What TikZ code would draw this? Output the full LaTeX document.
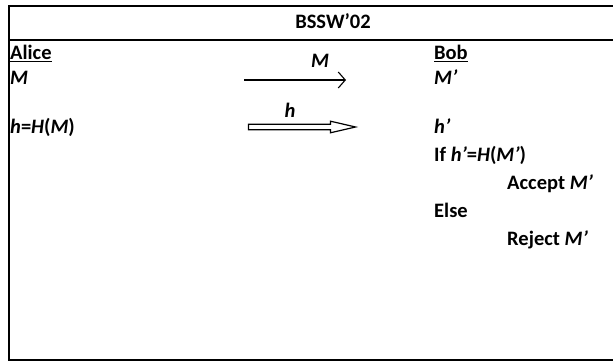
\documentclass[tikz,border=0pt]{standalone}
\usepackage{fontspec}
\setmainfont{Carlito}
\usetikzlibrary{arrows.meta,shapes.arrows}

\tikzset{
  txt/.style={anchor=base west, inner sep=0pt, font=\fontsize{20.5}{23}\selectfont\bfseries},
  frame/.style={line width=1.8pt},
  msg/.style={line width=1.1pt, -{Straight Barb[length=7pt,width=16pt]}},
  hollow/.style={single arrow, draw, line width=1.2pt, inner sep=2.2pt, minimum height=107pt,
    single arrow head extend=3pt, single arrow tip angle=26}
}

\begin{document}
\begin{tikzpicture}[x=1pt,y=-1pt]
  \useasboundingbox (0,0) rectangle (613,363);
  % frame and title bar
  \draw[frame] (613,6) -- (9,6) -- (9,360) -- (613,360);
  \draw[frame] (9,40) -- (613,40);
  \node[txt, anchor=base] (title) at (333,29) {BSSW'02};

  % parties
  \node[txt] (alice) at (10,60) {\underline{Alice}};
  \node[txt] (bob) at (434,60) {\underline{Bob}};

  % first message
  \node[txt] (m) at (10,85) {\textit{M}};
  \node[txt] (mb) at (434,85) {\textit{M'}};
  \coordinate (mfrom) at (244,80);
  \coordinate (mto) at (346,80);
  \draw[msg] (mfrom) -- (mto);
  \node[txt, anchor=base] (mlab) at (320,68) {\textit{M}};

  % hash value
  \node[txt] (h) at (10,134) {\textit{h}=\textit{H}(\textit{M})};
  \node[hollow] (harrow) at (296,127) {};
  \node[txt, anchor=base] (hlab) at (290,118) {\textit{h}};
  \node[txt] (hb) at (434,134) {\textit{h'}};

  % check at Bob
  \node[txt] (chk) at (434,162) {If \textit{h'}=\textit{H}(\textit{M'})};
  \node[txt] (acc) at (507,190) {Accept \textit{M'}};
  \node[txt] (els) at (434,218) {Else};
  \node[txt] (rej) at (507,246) {Reject \textit{M'}};
\end{tikzpicture}
\end{document}
